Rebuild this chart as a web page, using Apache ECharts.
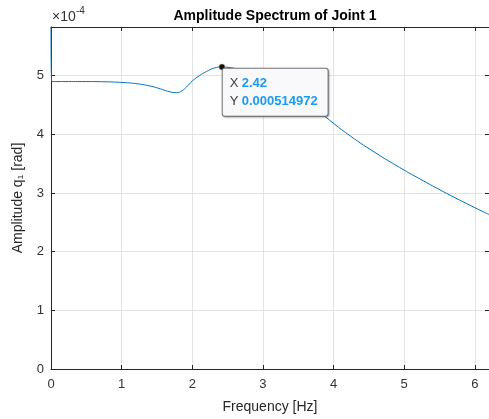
<!DOCTYPE html>
<html>
<head>
<meta charset="utf-8">
<title>Amplitude Spectrum of Joint 1</title>
<script src="https://cdn.jsdelivr.net/npm/echarts@6/dist/echarts.min.js"></script>
<style>
    html, body { margin: 0; padding: 0; background: #fff; }
    #chart { width: 489px; height: 419px; }
</style>
</head>
<body>
<div id="chart"></div>
<script>
// frequency [Hz] and amplitude [rad]
const freq = [0, 0.01, 0.2, 0.5, 0.8, 1.0, 1.2, 1.4, 1.55, 1.65, 1.78, 1.85, 1.92, 2.0, 2.1, 2.2, 2.31, 2.42,
    2.52, 2.65, 2.8, 3.0, 3.2, 3.4, 3.6, 3.84, 4.17, 4.6, 5.0, 5.2, 5.6, 6.0, 6.2]
const amp = [5.83e-4, 4.90e-4, 4.90e-4, 4.90e-4, 4.895e-4, 4.885e-4, 4.865e-4, 4.825e-4, 4.775e-4, 4.735e-4,
    4.71e-4, 4.74e-4, 4.81e-4, 4.91e-4, 5.00e-4, 5.07e-4, 5.13e-4, 5.14972e-4,
    5.14e-4, 5.11e-4, 5.05e-4, 4.96e-4, 4.85e-4, 4.71e-4, 4.55e-4, 4.34e-4, 4.03e-4, 3.68e-4, 3.39e-4, 3.254e-4,
    2.994e-4, 2.75e-4, 2.634e-4]
const xTicks = [0, 1, 2, 3, 4, 5, 6]
const yTicks = [0, 1, 2, 3, 4, 5]   // x 1e-4

// data tip
const tipFreq = 2.42
const tipAmp = 0.000514972

const axisColor = '#262626'
const gridColor = '#e3e3e3'
const font = 'Liberation Sans, Arial, Helvetica, sans-serif'

const myChart = echarts.init(document.getElementById('chart'), null, {renderer: 'canvas'})

const option = {
    animation: false,
    textStyle: { fontFamily: font },
    title: {
        text: 'Amplitude Spectrum of Joint 1',
        left: 270,
        textAlign: 'center',
        top: 4,
        textStyle: { fontSize: 14, fontWeight: 'bold', color: '#000', fontFamily: font }
    },
    grid: { left: 51, right: 0, top: 27, bottom: 46 },
    xAxis: [
        {
            type: 'value',
            min: 0,
            max: 6.2,
            interval: 1,
            name: 'Frequency [Hz]',
            nameLocation: 'middle',
            nameGap: 31,
            nameTextStyle: { fontSize: 14, color: axisColor, fontFamily: font },
            axisLine: { onZero: false, lineStyle: { color: axisColor, width: 1 } },
            axisTick: { inside: true, length: 4, lineStyle: { color: axisColor } },
            axisLabel: {
                color: '#333', fontSize: 13, margin: 9, fontFamily: font, showMaxLabel: false,
                formatter: function (v) { return xTicks.indexOf(v) >= 0 ? String(v) : '' }
            },
            splitLine: { show: true, lineStyle: { color: gridColor, width: 1 } }
        },
        {
            type: 'value',
            position: 'top',
            min: 0,
            max: 6.2,
            interval: 1,
            axisLine: { onZero: false, lineStyle: { color: axisColor, width: 1 } },
            axisTick: { inside: true, length: 4, lineStyle: { color: axisColor } },
            axisLabel: { show: false },
            splitLine: { show: false }
        }
    ],
    yAxis: [
        {
            type: 'value',
            min: 0,
            max: 5.83e-4,
            interval: 1e-4,
            name: 'Amplitude q\u2081 [rad]',
            nameLocation: 'middle',
            nameGap: 26,
            nameTextStyle: { fontSize: 14, color: axisColor, fontFamily: font },
            axisLine: { show: true, onZero: false, lineStyle: { color: axisColor, width: 1 } },
            axisTick: { inside: true, length: 4, lineStyle: { color: axisColor } },
            axisLabel: {
                color: '#333', fontSize: 13, margin: 7, fontFamily: font, showMaxLabel: false,
                formatter: function (v) {
                    const t = Math.round(v * 1e4)
                    return yTicks.indexOf(t) >= 0 && Math.abs(v * 1e4 - t) < 1e-6 ? String(t) : ''
                }
            },
            splitLine: { show: true, lineStyle: { color: gridColor, width: 1 } }
        },
        {
            type: 'value',
            position: 'right',
            min: 0,
            max: 5.83e-4,
            interval: 1e-4,
            axisLine: { show: true, onZero: false, lineStyle: { color: axisColor, width: 1 } },
            axisTick: { inside: true, length: 4, lineStyle: { color: axisColor } },
            axisLabel: { show: false },
            splitLine: { show: false }
        }
    ],
    graphic: [
        {
            type: 'text',
            left: 52,
            top: 10,
            style: { text: '\u00d710', fontSize: 14, fill: '#333', font: '14px ' + font }
        },
        {
            type: 'text',
            left: 76,
            top: 6,
            style: { text: '-4', fontSize: 10, fill: '#333', font: '10px ' + font }
        }
    ],
    series: [
        {
            name: 'Amplitude',
            type: 'line',
            data: freq.map(function (f, i) { return [f, amp[i]] }),
            showSymbol: false,
            smooth: 0.5,
            clip: true,
            lineStyle: { color: '#0072BD', width: 1 },
            markPoint: {
                symbol: 'circle',
                symbolSize: 6,
                itemStyle: { color: '#111', borderColor: '#c8b860', borderWidth: 0.5 },
                data: [{ coord: [tipFreq, tipAmp] }],
                label: {
                    show: true,
                    position: [4, 5],
                    backgroundColor: '#f9f9fc',
                    borderColor: '#777',
                    borderWidth: 1,
                    borderRadius: 2,
                    shadowColor: 'rgba(0,0,0,0.25)',
                    shadowBlur: 2,
                    shadowOffsetX: 1,
                    shadowOffsetY: 1,
                    padding: [6, 10, 5, 7],
                    lineHeight: 18,
                    formatter: function () {
                        return '{k|X} {v|' + tipFreq + '}\n{k|Y} {v|' + tipAmp + '}'
                    },
                    rich: {
                        k: { fontSize: 13, color: '#404040', fontFamily: font, lineHeight: 18 },
                        v: { fontSize: 13, color: '#1a9af0', fontWeight: 'bold', fontFamily: font, lineHeight: 18 }
                    }
                }
            }
        }
    ]
}

myChart.setOption(option)

window.addEventListener('resize', function () {
    myChart.resize()
})
</script>
</body>
</html>
